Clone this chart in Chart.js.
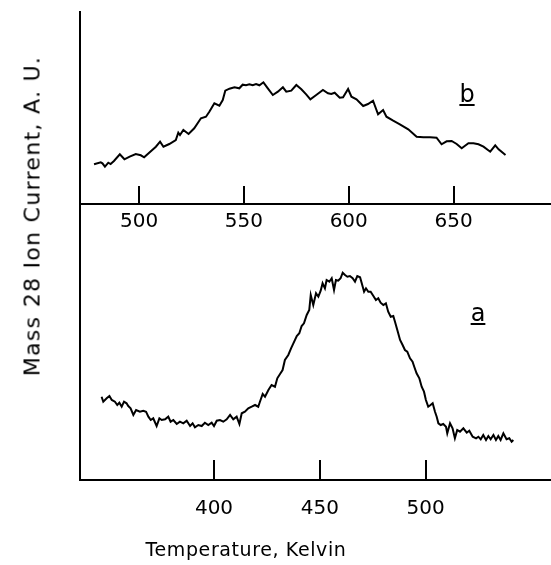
<!DOCTYPE html>
<html>
<head>
<meta charset="utf-8">
<script src="https://cdn.jsdelivr.net/npm/chart.js@4/dist/chart.umd.min.js"></script>
<style>
  html, body { margin:0; padding:0; background:#fff; }
  #wrap { position:relative; width:551px; height:565px; background:#fff; overflow:hidden; font-family:"DejaVu Sans", sans-serif; color:#000; }
  canvas { position:absolute; left:0; }
  #cTop { top:0; }
  #cBot { top:205px; }
  .lbl { position:absolute; white-space:nowrap; }
  #ytitle { left:32px; top:216px; transform:translate(-50%,-50%) rotate(-90deg); font-size:22px; letter-spacing:1.3px; }
  #xtitle { left:246px; top:549px; transform:translate(-50%,-50%); font-size:19px; letter-spacing:0.6px; }
  #lb { left:467px; top:94px; transform:translate(-50%,-50%); font-size:24px; text-decoration:underline; }
  #la { left:478px; top:313px; transform:translate(-50%,-50%); font-size:24px; text-decoration:underline; }
</style>
</head>
<body>
<div id="wrap">
  <canvas id="cTop" width="551" height="240"></canvas>
  <canvas id="cBot" width="551" height="360"></canvas>
  <div class="lbl" id="ytitle">Mass 28 Ion Current, A. U.</div>
  <div class="lbl" id="xtitle">Temperature, Kelvin</div>
  <div class="lbl" id="lb">b</div>
  <div class="lbl" id="la">a</div>
</div>
<script>
// Panel b (top): temperature (K) and ion current (A.U.)
const topT = [478.5,481.7,482.5,483.7,485.3,486.4,488,490.8,493,495.5,498.4,500.8,502.4,504.8,508,510,511.6,514.4,517.5,518.7,519.5,521.1,523.6,526.3,529.5,531.9,533.5,535.9,538.3,539.9,541.1,543.1,545.5,547.8,549.4,551,552.6,554.2,555.8,557.4,559.3,561.4,563.8,566.2,568.6,570.2,572.6,575,577.4,579.7,581.7,584.5,587.7,590.1,591.7,593.3,595.7,597.3,599.7,601.3,603.7,606.9,609.2,611.6,614,616.4,618,621.2,624.4,628.4,632.4,635.6,638.8,641.9,644.3,646.7,649.1,651.5,653.9,657.1,659.5,661.9,664.3,667.5,669.9,671.5,674.8];
const topV = [39.7,41.7,40.7,37.3,41.3,40,43,49.7,44.7,47.3,50,48.7,46.7,51.3,57.3,62.3,57.3,60,64,71.3,69,74,70,75.7,85.7,87.3,92.3,100.7,98.3,104,113.3,115.3,116.7,115.7,119.3,118.7,119.7,118.7,120,118.7,121.7,115.7,109,112.3,116.7,112.3,113.3,119,114.7,109.7,104.7,109,114,110.7,110,111.3,106.3,106.7,115,107.3,104.7,98,100,103.3,89.7,94,87.3,83.3,79.7,74.7,67.3,66.7,66.7,66.3,59.7,62.7,63,60,55.7,60.7,60.7,59.7,57.3,52.3,58.7,54.7,49];
// Panel a (bottom)
const botT = [346.9,347.7,349.3,350.6,351.7,353.2,354.3,355.3,356.4,357.5,358.7,359.5,360.6,361.9,363.2,365,366.6,367.9,369,370.1,371.3,372.9,374.2,375.3,376.9,378.4,379.5,380.8,382.4,383.9,385.5,387.1,388.7,389.9,391,392.6,394.2,395.7,397.3,398.9,400,401.3,402.8,404.4,406,407.6,409.1,410.7,412,413.1,414.6,416.2,417.8,419.4,420.9,421.7,423,424.1,425.7,427.2,428.8,429.9,431.2,432.4,433.5,435.1,436.4,437.5,439.1,440.3,441.4,442.5,443.8,445,445.7,446.9,448.2,449.3,450.4,451.3,452.4,453.2,454.5,455.6,456.7,457.6,458.7,459.8,460.8,461.9,463,464.2,465.5,466.6,467.7,469,469.8,470.9,471.8,472.9,474,475.3,476.5,477.6,478.7,480,481.2,482.3,483.5,484.7,485.5,486.6,487.9,489.1,490.2,491.3,492.6,493.8,494.6,495.7,497,498.1,499.2,500.1,501.2,502.3,503.3,504.4,505.2,506,507.1,508.3,509.6,510.2,511.5,512.7,513.8,514.9,516.2,517.8,519.4,520.6,522.2,523.8,524.9,526,527.2,528.5,529.6,530.7,532,533.2,534.3,535.4,536.7,538.2,539.5,540.6,541.4];
const botV = [83.3,78.3,81.7,84,80,78.3,75,77.3,73.3,78.3,76.7,74,71.7,65,70,68.3,69.3,68.3,63.3,60,61.7,54,61.7,60,60.7,63.3,58.3,60,56,58.3,56.7,59.3,54,56.7,52.7,55,54,57.3,55,57.3,54,59.3,60,58.3,60.7,65,60.7,63.3,56,66.7,68.3,71.7,73.3,75,73.3,78.3,86,83.3,90,95,93.3,101.7,106,110,120,125,131.7,136.7,144,146.7,154,156.7,165,170,185,175,186.7,183.3,189.3,196.7,191.7,200,198.3,201.7,190,200,199.3,201.7,207.3,205,203.3,204,201.7,198.3,204,202.7,196.7,188.3,191.7,188.3,188.3,184,180,181.7,177.3,175,176.7,168.3,163.3,164,158.3,150,140,135,130,128.3,121.7,118.3,113.3,106.7,101.7,93.3,88.3,80,73.3,75,76.7,68.3,63.3,56.7,55,56,53.3,46.7,56.7,51.7,41.7,50,48.3,51.7,47.3,49.3,43.3,41.7,43.3,40.7,45,40,44,40.7,45,40,44,40,46.7,40.7,41.7,38.3,40];
const topTicks = [500, 550, 600, 650];
const botTicks = [400, 450, 500];

const pts = (xs, ys) => xs.map((x, i) => ({ x: x, y: ys[i] }));
const tickFont = { family: "DejaVu Sans", size: 20 };

function makeChart(id, xs, ys, ticks, xmin, xmax, ymax, padTop, axisH, tickLen, labelPad) {
  return new Chart(document.getElementById(id), {
    type: 'line',
    data: { datasets: [{ data: pts(xs, ys), borderColor: '#000', borderWidth: 2, pointRadius: 0, tension: 0, fill: false }] },
    options: {
      responsive: false, animation: false, devicePixelRatio: 1,
      layout: { padding: { top: padTop, left: 0, right: 0, bottom: 0 } },
      plugins: { legend: { display: false }, tooltip: { enabled: false } },
      scales: {
        x: {
          type: 'linear', min: xmin, max: xmax,
          afterBuildTicks: s => { s.ticks = ticks.map(v => ({ value: v })); },
          afterFit: s => { s.height = axisH; },
          grid: { display: true, drawOnChartArea: false, drawTicks: true, tickLength: -tickLen, color: '#000', lineWidth: 2 },
          border: { display: true, color: '#000', width: 2 },
          ticks: { color: '#000', font: tickFont, padding: labelPad, maxRotation: 0, autoSkip: false }
        },
        y: {
          min: 0, max: ymax,
          afterFit: s => { s.width = 80; },
          grid: { display: false },
          border: { display: true, color: '#000', width: 2 },
          ticks: { display: false }
        }
      }
    }
  });
}

makeChart('cTop', topT, topV, topTicks, 471.8, 696.5, 192, 12, 36, 18, 24);
makeChart('cBot', botT, botV, botTicks, 336.7, 559.2, 275, 0, 85, 20, 37);
</script>
</body>
</html>
